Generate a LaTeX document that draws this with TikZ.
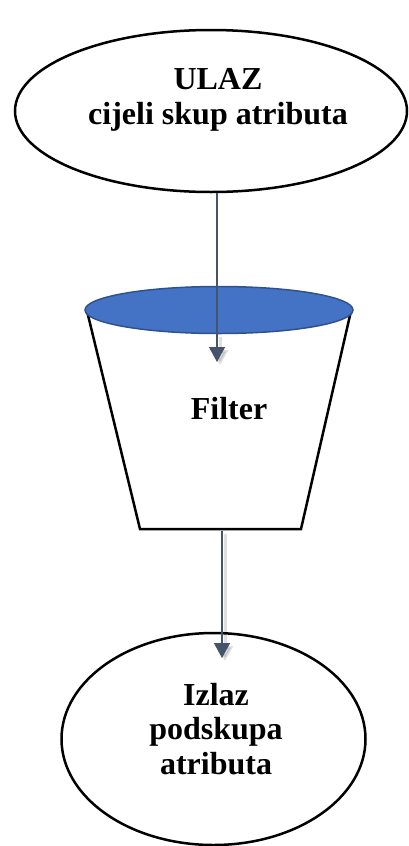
\documentclass[tikz,border=0pt]{standalone}
\usepackage{fontspec}
\setmainfont{Liberation Serif}
\usetikzlibrary{arrows.meta,shapes.geometric}
\definecolor{arrowc}{HTML}{44546A}
\definecolor{lidfill}{HTML}{4472C4}
\definecolor{lidline}{HTML}{2F528F}
\begin{document}
\begin{tikzpicture}[x=1pt,y=-1pt,
  outl/.style={draw=black,line width=2.5pt},
  lbl/.style={font=\fontsize{32}{34.5}\selectfont\bfseries,inner sep=0pt,align=center,anchor=base},
  conn/.style={draw=arrowc,line width=1.4pt,-{Triangle[length=15pt,width=16pt]}},
  shad/.style={draw=black,opacity=0.12,line width=3pt,-{Triangle[length=15pt,width=16pt]}}]
\useasboundingbox (0,0) rectangle (408,846);
% top ellipse
\node[ellipse,outl,minimum width=392pt,minimum height=162pt,inner sep=0pt] (in) at (211,111) {};
\node[lbl] (intext) at (218,124) {ULAZ\\cijeli skup atributa};
% bucket
\coordinate (tl) at (87,311);
\coordinate (tr) at (351,311);
\coordinate (bl) at (140,529);
\coordinate (br) at (301,529);
\draw[outl,line join=miter] (tl) -- (bl) -- (br) -- (tr);
\node[ellipse,draw=lidline,fill=lidfill,line width=1.5pt,minimum width=268pt,minimum height=47pt,inner sep=0pt] (lid) at (219,310) {};
\node[lbl] (filt) at (229,419) {Filter};
% bottom ellipse
\node[ellipse,outl,minimum width=304pt,minimum height=212pt,inner sep=0pt] (out) at (213.5,739) {};
\node[lbl] (outtext) at (216,774) {Izlaz\\podskupa\\atributa};
% connectors
\coordinate (a1e) at (217,362);
\coordinate (a1s) at (217,193);
\coordinate (a2s) at (222,531);
\coordinate (a2e) at (222,658);
\draw[shad] ([shift={(3,3)}]a1e |- lid.south) -- ([shift={(3,3)}]a1e);
\draw[shad] ([shift={(3,3)}]a2s) -- ([shift={(3,3)}]a2e);
\draw[conn] (a1s) -- (a1e);
\draw[conn] (a2s) -- (a2e);
\end{tikzpicture}
\end{document}
